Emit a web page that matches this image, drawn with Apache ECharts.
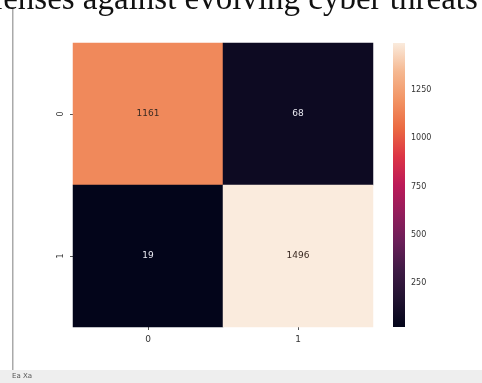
<!DOCTYPE html>
<html><head><meta charset="utf-8">
<script src="https://cdn.jsdelivr.net/npm/echarts@6/dist/echarts.min.js"></script>
<style>html,body{margin:0;padding:0;background:#fff;}#c{width:482px;height:383px;}</style>
</head><body><div id="c"></div>
<script>
const xCategories = ['0', '1'];
const yCategories = ['0', '1'];
// confusion matrix values [row][col]
const row0 = [1161, 68];
const row1 = [19, 1496];
const colorbarTicks = [250, 500, 750, 1000, 1250];
const titleText = 'defenses against evolving cyber threats';

const rocket = ['#03051A','#221331','#3F1B45','#6A1F58','#931D5B','#BC1A58','#DC3445','#EB6A42','#F29464','#F5B891','#FAEBDD'];
const rows = [row0, row1];
const data = [];
rows.forEach((r, yi) => r.forEach((v, xi) => data.push([xi, yi, v])));
const all = row0.concat(row1);
const vmin = Math.min(...all), vmax = Math.max(...all);

const chart = echarts.init(document.getElementById('c'));
const gridL = 73, gridT = 43, gridR = 373, gridB = 327;
const cbL = 393, cbR = 405;
chart.setOption({
  animation: false,
  backgroundColor: '#fff',
  grid: [
    {left: gridL, top: gridT, width: gridR - gridL, height: gridB - gridT},
    {left: cbL, top: gridT, width: cbR - cbL, height: gridB - gridT}
  ],
  xAxis: [
    {type: 'category', data: xCategories, gridIndex: 0,
     axisLine: {show: false}, splitArea: {show: false},
     axisTick: {show: true, alignWithLabel: true, length: 3, lineStyle: {color: '#555'}},
     axisLabel: {color: '#333', fontSize: 9, margin: 8, fontFamily: 'DejaVu Sans'}},
    {type: 'value', gridIndex: 1, show: false, min: 0, max: 1}
  ],
  yAxis: [
    {type: 'category', data: yCategories, gridIndex: 0, inverse: true,
     axisLine: {show: false},
     axisTick: {show: true, alignWithLabel: true, length: 3, lineStyle: {color: '#555'}},
     axisLabel: {color: '#333', fontSize: 8, rotate: 90, margin: 8, fontFamily: 'DejaVu Sans'}},
    {type: 'value', gridIndex: 1, position: 'right', min: vmin, max: vmax,
     axisLine: {show: false}, splitLine: {show: false},
     axisTick: {show: true, length: 3, lineStyle: {color: '#555'}, customValues: colorbarTicks},
     axisLabel: {color: '#333', fontSize: 8, margin: 6, fontFamily: 'DejaVu Sans', customValues: colorbarTicks,
       formatter: v => String(v)}}
  ],
  visualMap: {show: false, min: vmin, max: vmax, seriesIndex: 0, inRange: {color: rocket}},
  series: [
    {type: 'heatmap', xAxisIndex: 0, yAxisIndex: 0,
     data: data.map(d => ({value: d, label: {color: (d[2] - vmin) / (vmax - vmin) > 0.5 ? '#3a2a22' : '#e8e8f0'}})),
     label: {show: true, fontSize: 9, fontFamily: 'DejaVu Sans', formatter: p => String(p.value[2])},
     itemStyle: {borderWidth: 0}}
  ],
  graphic: [
    {type: 'text', x: -39, y: -16, z: 10,
     style: {text: titleText, font: '33px "Liberation Serif"', fill: '#111'}},
    {type: 'rect', shape: {x: 12, y: 8, width: 1.5, height: 362}, style: {fill: '#aaa'}},
    {type: 'rect', shape: {x: 0, y: 370, width: 482, height: 13}, style: {fill: '#eeeeee'}},
    {type: 'text', left: 12, top: 373, style: {text: 'Ea Xa', font: '7px "DejaVu Sans"', fill: '#555'}},
    {type: 'rect', z: 5, shape: {x: cbL, y: gridT, width: cbR - cbL, height: gridB - gridT},
     style: {fill: new echarts.graphic.LinearGradient(0, 1, 0, 0,
       rocket.map((c, i) => ({offset: i / (rocket.length - 1), color: c})))}}
  ]
});
</script></body></html>
